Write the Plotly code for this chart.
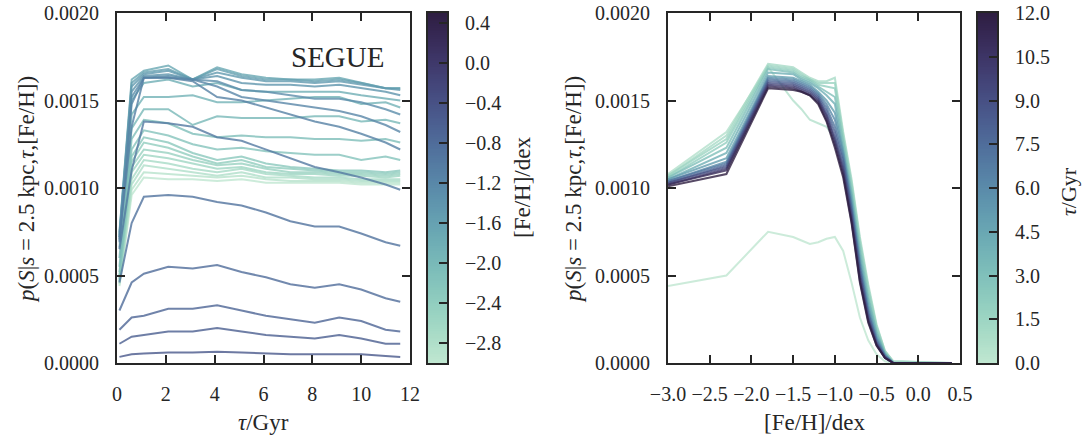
import numpy as np
import plotly.graph_objects as go

# ---------------- data ----------------
# Left panel: one line per [Fe/H] bin, values over tau
TAU_GRID = [0.1, 0.6, 1.1, 2.1, 3.1, 4.1, 5.1, 6.1, 7.1, 8.1, 9.1, 10.0, 11.0, 11.6]
FEH_LINES = [-3.0, -2.9, -2.8, -2.7, -2.6, -2.5, -2.4, -2.3, -2.2, -2.1, -2.0, -1.9,
             -1.8, -1.7, -1.6, -1.5, -1.4, -1.3, -1.2, -1.1, -1.0, -0.9, -0.8, -0.7,
             -0.6, -0.5]
P_LEFT = [
    [0.00044, 0.00096, 0.00106, 0.00105, 0.00105, 0.00104, 0.00105, 0.00103, 0.00103, 0.00103, 0.00103, 0.00102, 0.00102, 0.00102],
    [0.00045, 0.00099, 0.00109, 0.00108, 0.00107, 0.00106, 0.00107, 0.00105, 0.00104, 0.00104, 0.00104, 0.00103, 0.00103, 0.00103],
    [0.00046, 0.00102, 0.00113, 0.00111, 0.00109, 0.00107, 0.00109, 0.00106, 0.00106, 0.00105, 0.00105, 0.00104, 0.00104, 0.00104],
    [0.00047, 0.00105, 0.00116, 0.00114, 0.00111, 0.00109, 0.00111, 0.00108, 0.00107, 0.00106, 0.00106, 0.00105, 0.00105, 0.00105],
    [0.00047, 0.00109, 0.00119, 0.00117, 0.00114, 0.00111, 0.00112, 0.00109, 0.00108, 0.00108, 0.00107, 0.00107, 0.00106, 0.00107],
    [0.00048, 0.00112, 0.00122, 0.00120, 0.00116, 0.00113, 0.00114, 0.00111, 0.00109, 0.00109, 0.00108, 0.00108, 0.00107, 0.00108],
    [0.00049, 0.00115, 0.00126, 0.00123, 0.00118, 0.00114, 0.00116, 0.00112, 0.00111, 0.00110, 0.00109, 0.00109, 0.00108, 0.00109],
    [0.00050, 0.00118, 0.00129, 0.00126, 0.00120, 0.00116, 0.00118, 0.00114, 0.00112, 0.00111, 0.00110, 0.00110, 0.00109, 0.00110],
    [0.00052, 0.00122, 0.00133, 0.00130, 0.00125, 0.00122, 0.00123, 0.00121, 0.00120, 0.00119, 0.00119, 0.00116, 0.00118, 0.00116],
    [0.00055, 0.00128, 0.00139, 0.00137, 0.00131, 0.00129, 0.00130, 0.00129, 0.00129, 0.00128, 0.00128, 0.00127, 0.00128, 0.00126],
    [0.00060, 0.00134, 0.00145, 0.00145, 0.00136, 0.00141, 0.00140, 0.00140, 0.00140, 0.00141, 0.00141, 0.00138, 0.00139, 0.00137],
    [0.00066, 0.00142, 0.00152, 0.00152, 0.00153, 0.00149, 0.00149, 0.00150, 0.00151, 0.00152, 0.00152, 0.00148, 0.00149, 0.00146],
    [0.00072, 0.00150, 0.00160, 0.00162, 0.00158, 0.00160, 0.00156, 0.00155, 0.00155, 0.00155, 0.00155, 0.00153, 0.00151, 0.00150],
    [0.00075, 0.00162, 0.00167, 0.00170, 0.00162, 0.00169, 0.00165, 0.00163, 0.00162, 0.00162, 0.00163, 0.00160, 0.00157, 0.00157],
    [0.00074, 0.00160, 0.00166, 0.00168, 0.00162, 0.00168, 0.00164, 0.00162, 0.00162, 0.00161, 0.00162, 0.00160, 0.00157, 0.00157],
    [0.00073, 0.00158, 0.00165, 0.00167, 0.00162, 0.00166, 0.00163, 0.00161, 0.00161, 0.00160, 0.00161, 0.00159, 0.00157, 0.00156],
    [0.00072, 0.00155, 0.00164, 0.00165, 0.00162, 0.00164, 0.00160, 0.00159, 0.00159, 0.00158, 0.00159, 0.00157, 0.00155, 0.00153],
    [0.00070, 0.00152, 0.00163, 0.00164, 0.00162, 0.00161, 0.00156, 0.00155, 0.00153, 0.00151, 0.00151, 0.00149, 0.00145, 0.00142],
    [0.00069, 0.00148, 0.00163, 0.00163, 0.00162, 0.00158, 0.00152, 0.00150, 0.00148, 0.00146, 0.00144, 0.00141, 0.00136, 0.00132],
    [0.00071, 0.00135, 0.00163, 0.00163, 0.00161, 0.00152, 0.00150, 0.00146, 0.00142, 0.00138, 0.00135, 0.00131, 0.00126, 0.00122],
    [0.00065, 0.00110, 0.00138, 0.00137, 0.00135, 0.00129, 0.00127, 0.00122, 0.00117, 0.00112, 0.00109, 0.00106, 0.00102, 0.00099],
    [0.00046, 0.00080, 0.00095, 0.00096, 0.00095, 0.00092, 0.00090, 0.00086, 0.00081, 0.00078, 0.00078, 0.00074, 0.00069, 0.00067],
    [0.00030, 0.00046, 0.00051, 0.00055, 0.00054, 0.00056, 0.00052, 0.00049, 0.00045, 0.00043, 0.00045, 0.00042, 0.00037, 0.00035],
    [0.00019, 0.00026, 0.00027, 0.00031, 0.00031, 0.00033, 0.00030, 0.00027, 0.00025, 0.00023, 0.00026, 0.00024, 0.00019, 0.00018],
    [0.00011, 0.00015, 0.00016, 0.00018, 0.00018, 0.00020, 0.00018, 0.00016, 0.00015, 0.00014, 0.00016, 0.00014, 0.00011, 0.00011],
    [0.000035, 0.00005, 0.000055, 0.00006, 0.00006, 0.000065, 0.00006, 0.000055, 0.00005, 0.00005, 0.00005, 0.00005, 0.00004, 0.000035],
]

# Right panel: one line per tau, values over [Fe/H]
FEH_GRID = [-3.0, -2.3, -1.8, -1.5, -1.4, -1.3, -1.2, -1.1, -1.0, -0.9, -0.8, -0.7, -0.6, -0.5, -0.4, -0.3, 0.4]
TAU_LINES = [0.0, 0.5, 1.0, 1.5, 2.0, 3.0, 4.0, 5.0, 6.0, 7.0, 8.0, 9.0, 10.0, 11.0, 12.0]
P_RIGHT = [
    [0.00044, 0.00050, 0.00075, 0.00072, 0.00070, 0.00068, 0.00069, 0.00071, 0.00072, 0.00064, 0.00046, 0.00026, 0.00013, 0.00005, 0.00001, 0.0, 0.0],
    [0.00108, 0.00132, 0.00169, 0.00150, 0.00145, 0.00139, 0.00137, 0.00135, 0.00128, 0.00112, 0.00090, 0.00060, 0.00034, 0.00015, 0.00004, 0.0, 0.0],
    [0.00107, 0.00130, 0.00171, 0.00169, 0.00166, 0.00163, 0.00161, 0.00161, 0.00163, 0.00132, 0.00105, 0.00072, 0.00045, 0.00022, 0.00007, 0.00001, 0.0],
    [0.00107, 0.00128, 0.00170, 0.00168, 0.00165, 0.00162, 0.00160, 0.00160, 0.00160, 0.00130, 0.00103, 0.00070, 0.00043, 0.00021, 0.00007, 0.00001, 0.0],
    [0.00106, 0.00126, 0.00169, 0.00167, 0.00164, 0.00162, 0.00159, 0.00158, 0.00157, 0.00128, 0.00101, 0.00068, 0.00041, 0.00020, 0.00006, 0.0, 0.0],
    [0.00106, 0.00123, 0.00168, 0.00166, 0.00163, 0.00161, 0.00158, 0.00155, 0.00152, 0.00126, 0.00098, 0.00065, 0.00038, 0.00018, 0.00006, 0.0, 0.0],
    [0.00105, 0.00120, 0.00166, 0.00165, 0.00162, 0.00160, 0.00157, 0.00153, 0.00148, 0.00123, 0.00096, 0.00062, 0.00036, 0.00017, 0.00005, 0.0, 0.0],
    [0.00105, 0.00117, 0.00164, 0.00163, 0.00161, 0.00159, 0.00155, 0.00150, 0.00143, 0.00121, 0.00093, 0.00059, 0.00033, 0.00015, 0.00005, 0.0, 0.0],
    [0.00104, 0.00115, 0.00163, 0.00162, 0.00160, 0.00158, 0.00154, 0.00148, 0.00139, 0.00119, 0.00091, 0.00057, 0.00031, 0.00014, 0.00004, 0.0, 0.0],
    [0.00104, 0.00114, 0.00162, 0.00161, 0.00159, 0.00157, 0.00153, 0.00146, 0.00135, 0.00117, 0.00089, 0.00055, 0.00029, 0.00013, 0.00004, 0.0, 0.0],
    [0.00103, 0.00113, 0.00161, 0.00160, 0.00158, 0.00156, 0.00152, 0.00144, 0.00132, 0.00115, 0.00087, 0.00053, 0.00028, 0.00012, 0.00004, 0.0, 0.0],
    [0.00103, 0.00112, 0.00160, 0.00159, 0.00157, 0.00155, 0.00151, 0.00142, 0.00129, 0.00112, 0.00085, 0.00051, 0.00026, 0.00011, 0.00003, 0.0, 0.0],
    [0.00102, 0.00111, 0.00159, 0.00158, 0.00156, 0.00154, 0.00150, 0.00141, 0.00127, 0.00110, 0.00083, 0.00049, 0.00025, 0.00011, 0.00003, 0.0, 0.0],
    [0.00102, 0.00110, 0.00158, 0.00157, 0.00155, 0.00153, 0.00149, 0.00139, 0.00125, 0.00108, 0.00081, 0.00047, 0.00024, 0.00010, 0.00003, 0.0, 0.0],
    [0.00101, 0.00108, 0.00157, 0.00156, 0.00155, 0.00153, 0.00148, 0.00138, 0.00123, 0.00106, 0.00080, 0.00046, 0.00023, 0.00010, 0.00003, 0.0, 0.0],
]

FEH_RANGE = [-3.0, 0.5]
TAU_RANGE = [0.0, 12.0]
Y_TICKS = [0.0, 0.0005, 0.0010, 0.0015, 0.0020]
Y_TICKTEXT = ["0.0000", "0.0005", "0.0010", "0.0015", "0.0020"]
TAU_TICKS = [0, 2, 4, 6, 8, 10, 12]
FEH_TICKS = [-3.0, -2.5, -2.0, -1.5, -1.0, -0.5, 0.0, 0.5]
CB1_TICKS = [0.4, 0.0, -0.4, -0.8, -1.2, -1.6, -2.0, -2.4, -2.8]
CB2_TICKS = [0.0, 1.5, 3.0, 4.5, 6.0, 7.5, 9.0, 10.5, 12.0]


# ---------------- style ----------------
def cubehelix(v, start=0.4, rot=-0.5, gamma=1.0, hue=0.9, light=0.85, dark=0.15):
    x = light + (dark - light) * v
    xg = x ** gamma
    a = hue * xg * (1 - xg) / 2
    phi = 2 * np.pi * (start / 3 + rot * x)
    r = xg + a * (-0.14861 * np.cos(phi) + 1.78277 * np.sin(phi))
    g = xg + a * (-0.29227 * np.cos(phi) - 0.90649 * np.sin(phi))
    b = xg + a * (1.97294 * np.cos(phi))
    rgb = [min(max(c, 0.0), 1.0) for c in (r, g, b)]
    return "rgb(%d,%d,%d)" % tuple(int(round(c * 255)) for c in rgb)


N_CS = 128
COLORSCALE = [[i / (N_CS - 1), cubehelix(i / (N_CS - 1))] for i in range(N_CS)]

FONT = "Liberation Serif"
INK = "#262626"
W, H = 1083, 441


def px_x(p):
    return p / W


def px_y(p):
    return 1 - p / H


def minus(s):
    return s.replace("-", "\u2212")


fig = go.Figure()

for feh, row in zip(FEH_LINES, P_LEFT):
    v = (feh - FEH_RANGE[0]) / (FEH_RANGE[1] - FEH_RANGE[0])
    fig.add_trace(go.Scatter(x=TAU_GRID, y=row, mode="lines", xaxis="x", yaxis="y",
                             line=dict(color=cubehelix(v), width=2), opacity=0.8,
                             showlegend=False, hoverinfo="skip"))

for tau, row in zip(TAU_LINES, P_RIGHT):
    v = (tau - TAU_RANGE[0]) / (TAU_RANGE[1] - TAU_RANGE[0])
    fig.add_trace(go.Scatter(x=FEH_GRID, y=row, mode="lines", xaxis="x2", yaxis="y2",
                             line=dict(color=cubehelix(v), width=2), opacity=0.8,
                             showlegend=False, hoverinfo="skip"))

cb1_vals = np.linspace(FEH_RANGE[0], FEH_RANGE[1], 200)
fig.add_trace(go.Heatmap(x=[0], y=cb1_vals, z=[[v] for v in cb1_vals], xaxis="x3", yaxis="y3",
                         colorscale=COLORSCALE, zmin=FEH_RANGE[0], zmax=FEH_RANGE[1],
                         showscale=False, hoverinfo="skip"))
cb2_vals = np.linspace(TAU_RANGE[0], TAU_RANGE[1], 200)
fig.add_trace(go.Heatmap(x=[0], y=cb2_vals, z=[[v] for v in cb2_vals], xaxis="x4", yaxis="y4",
                         colorscale=COLORSCALE, zmin=TAU_RANGE[0], zmax=TAU_RANGE[1],
                         showscale=False, hoverinfo="skip"))

TOP, BOT = 13, 363
YDOM = [px_y(BOT), px_y(TOP)]
tickfont = dict(family=FONT, size=20, color=INK)

axis_common = dict(showline=True, linewidth=2.2, linecolor=INK, mirror="ticks",
                   ticks="inside", ticklen=8, tickwidth=2, tickcolor=INK,
                   showgrid=False, zeroline=False, tickfont=tickfont, automargin=False)
cb_x = dict(range=[-0.5, 0.5], showticklabels=False, ticks="", showline=True, linewidth=2.2,
            linecolor=INK, mirror=True, showgrid=False, zeroline=False, automargin=False)
cb_y = dict(side="right", ticks="inside", ticklen=8, tickwidth=2, tickcolor=INK, showline=True,
            linewidth=2.2, linecolor=INK, mirror=True, showgrid=False, zeroline=False,
            tickfont=tickfont, ticklabelstandoff=12, automargin=False)

fig.update_layout(
    template="none",
    width=W, height=H, margin=dict(l=0, r=0, t=0, b=0, autoexpand=False),
    paper_bgcolor="white", plot_bgcolor="white",
    font=dict(family=FONT, color=INK),
    xaxis=dict(domain=[px_x(117), px_x(410)], range=TAU_RANGE, tickvals=TAU_TICKS,
               ticktext=[str(t) for t in TAU_TICKS], anchor="y", ticklabelstandoff=12, **axis_common),
    yaxis=dict(domain=YDOM, range=[0, 0.002], tickvals=Y_TICKS, ticktext=Y_TICKTEXT,
               anchor="x", ticklabelstandoff=12, **axis_common),
    xaxis2=dict(domain=[px_x(668), px_x(960)], range=FEH_RANGE, tickvals=FEH_TICKS,
                ticktext=[minus("%.1f" % t) for t in FEH_TICKS], anchor="y2", ticklabelstandoff=12,
                **axis_common),
    yaxis2=dict(domain=YDOM, range=[0, 0.002], tickvals=Y_TICKS, ticktext=Y_TICKTEXT,
                anchor="x2", ticklabelstandoff=12, **axis_common),
    xaxis3=dict(domain=[px_x(428), px_x(447)], anchor="y3", **cb_x),
    yaxis3=dict(domain=YDOM, range=FEH_RANGE, tickvals=CB1_TICKS,
                ticktext=[minus("%.1f" % t) for t in CB1_TICKS], anchor="x3", **cb_y),
    xaxis4=dict(domain=[px_x(978), px_x(997)], anchor="y4", **cb_x),
    yaxis4=dict(domain=YDOM, range=TAU_RANGE, tickvals=CB2_TICKS,
                ticktext=["%.1f" % t for t in CB2_TICKS], anchor="x4", **cb_y),
)

ylabel = "<i>p</i>(<i>S</i>|<i>s</i> = 2.5 kpc,<i>τ</i>,[Fe/H])"
title_font = dict(family=FONT, size=23, color=INK)
annotations = [
    dict(text=ylabel, x=px_x(27), y=px_y(190), textangle=-90),
    dict(text=ylabel, x=px_x(574), y=px_y(190), textangle=-90),
    dict(text="<i>τ</i>/Gyr", x=px_x(263), y=px_y(422)),
    dict(text="[Fe/H]/dex", x=px_x(814), y=px_y(422)),
    dict(text="[Fe/H]/dex", x=px_x(522), y=px_y(188), textangle=-90),
    dict(text="<i>τ</i>/Gyr", x=px_x(1068), y=px_y(192), textangle=-90, font_size=22),
]
for a in annotations:
    fs = a.pop("font_size", 23)
    fig.add_annotation(xref="paper", yref="paper", xanchor="center", yanchor="middle",
                       showarrow=False, font=dict(family=FONT, size=fs, color=INK), **a)
fig.add_annotation(text="SEGUE", xref="paper", yref="paper", x=px_x(337), y=px_y(57),
                   xanchor="center", yanchor="middle", showarrow=False,
                   font=dict(family=FONT, size=29, color=INK))

fig.write_html("out.html")
